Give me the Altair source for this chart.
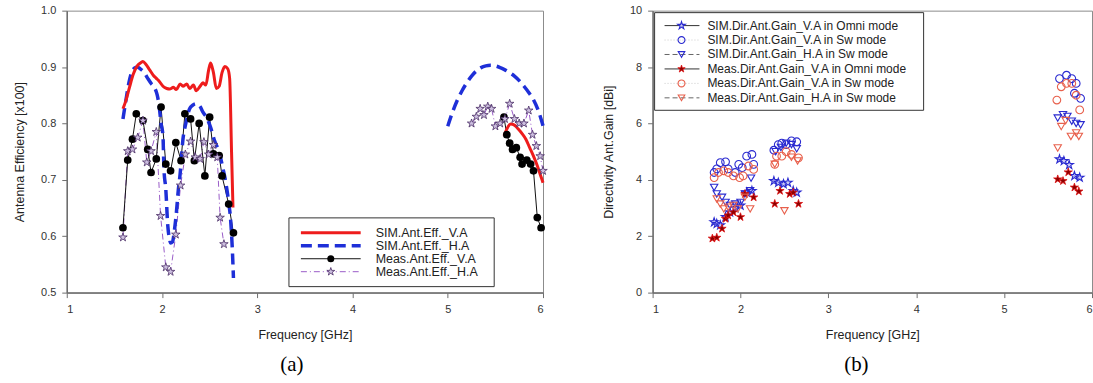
import altair as alt
import pandas as pd

# ---------------- Panel (a): antenna efficiency ----------------
sim_v_f = [1.59, 1.62, 1.66, 1.70, 1.74, 1.78, 1.80, 1.83, 1.87, 1.91, 1.94, 1.97, 2.01, 2.05, 2.08,
           2.12, 2.15, 2.19, 2.22, 2.26, 2.29, 2.33, 2.36, 2.40, 2.43, 2.46, 2.49, 2.51, 2.54, 2.57,
           2.60, 2.63, 2.66, 2.69, 2.71, 2.73, 2.745]
sim_v_e = [0.826, 0.840, 0.865, 0.888, 0.902, 0.908, 0.910, 0.905, 0.895, 0.885, 0.880, 0.875, 0.866,
           0.862, 0.861, 0.864, 0.860, 0.870, 0.866, 0.870, 0.862, 0.868, 0.858, 0.866, 0.872, 0.868,
           0.895, 0.907, 0.890, 0.862, 0.866, 0.890, 0.901, 0.897, 0.880, 0.750, 0.651]
sim_v_f2 = [5.59, 5.62, 5.66, 5.70, 5.74, 5.78, 5.82, 5.86, 5.90, 5.94, 5.98, 6.00]
sim_v_e2 = [0.778, 0.790, 0.799, 0.797, 0.790, 0.782, 0.772, 0.757, 0.742, 0.725, 0.705, 0.695]

sim_h_f = [1.59, 1.62, 1.65, 1.68, 1.71, 1.74, 1.77, 1.81, 1.85, 1.89, 1.92, 1.95, 1.97, 1.99, 2.01,
           2.02, 2.04, 2.06, 2.08, 2.09, 2.11, 2.13, 2.15, 2.17, 2.19, 2.22, 2.25, 2.29, 2.32, 2.36,
           2.40, 2.43, 2.47, 2.51, 2.55, 2.60, 2.64, 2.67, 2.70, 2.72, 2.74, 2.75]
sim_h_e = [0.808, 0.840, 0.870, 0.890, 0.898, 0.900, 0.897, 0.891, 0.880, 0.870, 0.864, 0.850, 0.831,
           0.800, 0.778, 0.720, 0.683, 0.620, 0.594, 0.588, 0.590, 0.610, 0.640, 0.680, 0.710, 0.772,
           0.800, 0.826, 0.832, 0.835, 0.830, 0.820, 0.810, 0.793, 0.770, 0.749, 0.720, 0.695, 0.660,
           0.630, 0.570, 0.526]
sim_h_f2 = [5.00, 5.05, 5.10, 5.15, 5.20, 5.25, 5.30, 5.35, 5.40, 5.45, 5.50, 5.55, 5.60, 5.65, 5.70,
            5.75, 5.80, 5.85, 5.90, 5.95, 6.00]
sim_h_e2 = [0.795, 0.820, 0.841, 0.858, 0.872, 0.884, 0.893, 0.899, 0.902, 0.903, 0.902, 0.899, 0.895,
            0.890, 0.884, 0.876, 0.866, 0.855, 0.842, 0.823, 0.796]

meas_v_f = [1.59, 1.64, 1.69, 1.73, 1.80, 1.85, 1.885, 1.94, 1.99, 2.04, 2.09, 2.145, 2.20, 2.24, 2.30,
            2.34, 2.39, 2.45, 2.50, 2.54, 2.60, 2.63, 2.70, 2.75]
meas_v_e = [0.615, 0.735, 0.772, 0.817, 0.805, 0.754, 0.713, 0.737, 0.829, 0.728, 0.716, 0.766, 0.734,
            0.817, 0.808, 0.734, 0.800, 0.707, 0.811, 0.746, 0.743, 0.707, 0.657, 0.606]
meas_v_f2 = [5.59, 5.62, 5.65, 5.68, 5.72, 5.76, 5.78, 5.83, 5.87, 5.90, 5.94, 5.98]
meas_v_e2 = [0.811, 0.780, 0.765, 0.754, 0.757, 0.740, 0.728, 0.735, 0.728, 0.716, 0.633, 0.615]

meas_h_f = [1.59, 1.64, 1.69, 1.745, 1.80, 1.84, 1.885, 1.94, 1.985, 2.04, 2.09, 2.145, 2.195, 2.245,
            2.30, 2.35, 2.40, 2.44, 2.49, 2.54, 2.58, 2.61, 2.65]
meas_h_e = [0.598, 0.751, 0.754, 0.775, 0.805, 0.731, 0.751, 0.785, 0.636, 0.545, 0.537, 0.603, 0.690,
            0.745, 0.768, 0.740, 0.737, 0.767, 0.745, 0.762, 0.740, 0.633, 0.586]
meas_h_f2 = [5.25, 5.30, 5.34, 5.38, 5.42, 5.46, 5.50, 5.55, 5.60, 5.65, 5.70, 5.75, 5.80, 5.85, 5.89,
             5.93, 5.97, 6.00]
meas_h_e2 = [0.800, 0.812, 0.826, 0.815, 0.830, 0.826, 0.795, 0.800, 0.808, 0.835, 0.808, 0.800, 0.800,
             0.823, 0.780, 0.760, 0.742, 0.716]

legend_a = ["SIM.Ant.Eff._V.A", "SIM.Ant.Eff._H.A", "Meas.Ant.Eff._V.A", "Meas.Ant.Eff._H.A"]

# ---------------- Panel (b): directivity / gain ----------------
sim_v_omni_f = [1.70, 1.73, 1.77, 1.83, 1.88, 1.94, 2.00, 2.07, 2.13, 2.38, 2.43, 2.49, 2.54, 2.60, 2.64,
                5.63, 5.68, 5.74, 5.80, 5.86]
sim_v_omni_g = [2.50, 2.44, 2.39, 2.68, 2.85, 3.00, 3.09, 3.55, 3.61, 3.96, 3.90, 3.85, 3.90, 3.61, 3.55,
                4.73, 4.67, 4.53, 4.14, 4.08]
sim_v_sw_f = [1.70, 1.73, 1.77, 1.83, 1.86, 1.94, 1.98, 2.02, 2.07, 2.13, 2.15, 2.38, 2.43, 2.47, 2.52,
              2.58, 2.64, 5.63, 5.71, 5.77, 5.82, 5.80, 5.87]
sim_v_sw_g = [4.26, 4.39, 4.61, 4.64, 4.39, 4.26, 4.55, 4.43, 4.84, 4.90, 4.55, 5.05, 5.25, 5.30, 5.25,
              5.38, 5.35, 7.59, 7.71, 7.59, 7.42, 7.07, 6.89]
sim_h_sw_f = [1.70, 1.73, 1.79, 1.83, 1.88, 1.94, 2.00, 2.05, 2.11, 2.12, 2.40, 2.46, 2.52, 2.58, 2.64,
              5.61, 5.67, 5.72, 5.77, 5.82, 5.87]
sim_h_sw_g = [3.73, 3.50, 3.38, 3.20, 3.09, 3.14, 3.20, 3.50, 3.61, 4.06, 5.00, 5.15, 5.30, 5.25, 5.10,
              6.19, 6.31, 6.25, 6.08, 6.00, 5.95]
meas_v_omni_f = [1.68, 1.73, 1.79, 1.83, 1.86, 1.92, 2.00, 2.05, 2.15, 2.39, 2.45, 2.56, 2.60, 2.66,
                 5.61, 5.67, 5.73, 5.80, 5.85]
meas_v_omni_g = [1.92, 1.95, 2.27, 2.62, 2.74, 2.85, 2.68, 3.50, 3.38, 3.15, 3.61, 3.50, 3.55, 3.15,
                 4.02, 3.96, 4.27, 3.73, 3.59]
meas_v_sw_f = [1.70, 1.75, 1.81, 1.86, 1.92, 1.99, 2.03, 2.09, 2.15, 2.39, 2.41, 2.47, 2.52, 2.58, 2.66,
               5.60, 5.65, 5.71, 5.77, 5.82, 5.86]
meas_v_sw_g = [4.08, 4.26, 4.32, 4.26, 4.14, 4.08, 4.14, 4.49, 4.37, 4.55, 4.84, 4.84, 5.00, 4.90, 4.78,
               6.83, 7.30, 7.42, 7.42, 7.00, 6.48]
meas_h_sw_f = [1.73, 1.77, 1.81, 1.86, 1.92, 1.97, 2.05, 2.11, 2.39, 2.50, 2.58, 2.65,
               5.61, 5.65, 5.70, 5.76, 5.82, 5.85]
meas_h_sw_g = [3.32, 3.14, 2.97, 3.03, 3.09, 2.97, 3.38, 2.97, 4.55, 2.90, 4.80, 4.67,
               5.13, 5.89, 6.10, 5.54, 5.66, 5.54]

legend_b = ["SIM.Dir.Ant.Gain_V.A in Omni mode", "SIM.Dir.Ant.Gain_V.A in Sw mode",
            "SIM.Dir.Ant.Gain_H.A in Sw mode", "Meas.Dir.Ant.Gain_V.A in Omni mode",
            "Meas.Dir.Ant.Gain_V.A in Sw mode", "Meas.Dir.Ant.Gain_H.A in Sw mode"]

x_ticks = [1, 2, 3, 4, 5, 6]
ya_ticks = [0.5, 0.6, 0.7, 0.8, 0.9, 1.0]
yb_ticks = [0, 2, 4, 6, 8, 10]

STAR = ("M0,-1L0.2245,-0.309L0.951,-0.309L0.363,0.118L0.588,0.809L0,0.382"
        "L-0.588,0.809L-0.363,0.118L-0.951,-0.309L-0.2245,-0.309Z")
FONT = "Liberation Sans"

WA, HA = 478, 283
WB, HB = 441, 283


def bands(f1, v1, f2, v2):
    return pd.DataFrame({"f": f1 + f2, "v": v1 + v2,
                         "band": ["low"] * len(f1) + ["high"] * len(f2)})


one = pd.DataFrame({"k": [0]})

xa = alt.X("f:Q", scale=alt.Scale(domain=[1, 6], nice=False),
           axis=alt.Axis(values=x_ticks, title="Frequency [GHz]", format="d"))
ya = alt.Y("v:Q", scale=alt.Scale(domain=[0.5, 1.0], nice=False, zero=False),
           axis=alt.Axis(values=ya_ticks, format=".1f", title="Antenna Efficiency [x100]"))

df_sv = bands(sim_v_f, sim_v_e, sim_v_f2, sim_v_e2)
df_sh = bands(sim_h_f, sim_h_e, sim_h_f2, sim_h_e2)
df_mv = bands(meas_v_f, meas_v_e, meas_v_f2, meas_v_e2)
df_mh = bands(meas_h_f, meas_h_e, meas_h_f2, meas_h_e2)

RED = "#ee1c1c"
BLUE = "#1e2fd8"
PURP = "#9a5cc8"

layers_a = [
    alt.Chart(df_mh).mark_line(color=PURP, strokeWidth=1, strokeDash=[6, 3, 1, 3]).encode(x=xa, y=ya, detail="band:N"),
    alt.Chart(df_mv).mark_line(color="#111111", strokeWidth=1).encode(x=xa, y=ya, detail="band:N"),
    alt.Chart(df_sh).mark_line(color=BLUE, strokeWidth=3.5, strokeDash=[11, 6], interpolate="monotone").encode(x=xa, y=ya, detail="band:N"),
    alt.Chart(df_sv).mark_line(color=RED, strokeWidth=3, interpolate="monotone").encode(x=xa, y=ya, detail="band:N"),
    alt.Chart(df_mv).mark_point(shape="circle", filled=True, color="#000000", size=60, opacity=1).encode(x=xa, y=ya),
    alt.Chart(df_mh).mark_point(shape=STAR, filled=True, fill="#cdbfe0", stroke="#4a2d66", strokeWidth=0.8, size=80, opacity=1).encode(x=xa, y=ya),
]

# legend of panel (a), positions in plot pixels
la_box = (223, 429, 208, 277)
la_rows = [223, 236, 249, 262]
la_line = (235, 295)
la_mark = 265
la_text = 310
layers_a.append(
    alt.Chart(one).mark_rect(fill="white", stroke="#333333", strokeWidth=1).encode(
        x=alt.value(la_box[0]), x2=alt.value(la_box[1]), y=alt.value(la_box[2]), y2=alt.value(la_box[3])))
styles_a = [
    dict(color=RED, strokeWidth=3),
    dict(color=BLUE, strokeWidth=3.5, strokeDash=[11, 6]),
    dict(color="#111111", strokeWidth=1),
    dict(color=PURP, strokeWidth=1, strokeDash=[6, 3, 1, 3]),
]
for i, (lab, st) in enumerate(zip(legend_a, styles_a)):
    yy = la_rows[i]
    layers_a.append(alt.Chart(one).mark_rule(**st).encode(
        x=alt.value(la_line[0]), x2=alt.value(la_line[1]), y=alt.value(yy)))
    if i == 2:
        layers_a.append(alt.Chart(one).mark_point(shape="circle", filled=True, color="#000000", size=50, opacity=1).encode(
            x=alt.value(la_mark), y=alt.value(yy)))
    if i == 3:
        layers_a.append(alt.Chart(one).mark_point(shape=STAR, filled=True, fill="#cdbfe0", stroke="#4a2d66", strokeWidth=0.8, size=70, opacity=1).encode(
            x=alt.value(la_mark), y=alt.value(yy)))
    layers_a.append(alt.Chart(one).mark_text(align="left", baseline="middle", font=FONT, fontSize=12.5, color="#222222").encode(
        x=alt.value(la_text), y=alt.value(yy), text=alt.value(lab)))

panel_a = alt.layer(*layers_a).properties(
    width=WA, height=HA,
    title=alt.TitleParams("(a)", orient="bottom", anchor="middle", frame="group", font="Liberation Serif",
                          fontSize=21, fontWeight="normal", color="#000000", offset=13, dx=-13))

# ---------------- Panel (b) ----------------
xb = alt.X("f:Q", scale=alt.Scale(domain=[1, 6], nice=False),
           axis=alt.Axis(values=x_ticks, title="Frequency [GHz]", format="d"))
yb = alt.Y("g:Q", scale=alt.Scale(domain=[0, 10], nice=False),
           axis=alt.Axis(values=yb_ticks, format="d", title="Directivity Ant.Gain [dBi]"))

BL = "#2a2ad0"
RL = "#e8604c"
styles_b = [
    dict(shape=STAR, filled=True, fill="#c8c8f4", stroke=BL, strokeWidth=1.1, size=80),
    dict(shape="circle", filled=False, stroke=BL, strokeWidth=1.1, size=60),
    dict(shape="triangle-down", filled=False, stroke=BL, strokeWidth=1.1, size=55),
    dict(shape=STAR, filled=True, fill="#8b0000", stroke="#e01010", strokeWidth=0.8, size=75),
    dict(shape="circle", filled=False, stroke=RL, strokeWidth=1.1, size=60),
    dict(shape="triangle-down", filled=False, stroke=RL, strokeWidth=1.1, size=55),
]
series_b = [
    (sim_v_omni_f, sim_v_omni_g),
    (sim_v_sw_f, sim_v_sw_g),
    (sim_h_sw_f, sim_h_sw_g),
    (meas_v_omni_f, meas_v_omni_g),
    (meas_v_sw_f, meas_v_sw_g),
    (meas_h_sw_f, meas_h_sw_g),
]
layers_b = []
for (ff, gg), st in zip(series_b, styles_b):
    d = pd.DataFrame({"f": ff, "g": gg})
    layers_b.append(alt.Chart(d).mark_point(opacity=1, **st).encode(x=xb, y=yb))

lb_box = (2, 272, 2, 100)
lb_rows = [15, 29.5, 44, 58.5, 73, 87.5]
lb_line = (12, 47)
lb_mark = 29
lb_text = 55
layers_b.append(
    alt.Chart(one).mark_rect(fill="white", stroke="#333333", strokeWidth=1).encode(
        x=alt.value(lb_box[0]), x2=alt.value(lb_box[1]), y=alt.value(lb_box[2]), y2=alt.value(lb_box[3])))
line_b = [
    dict(color="#333333", strokeWidth=1),
    dict(color="#cccccc", strokeWidth=1, strokeDash=[1, 2]),
    dict(color="#666666", strokeWidth=1, strokeDash=[5, 3]),
    dict(color="#333333", strokeWidth=1),
    dict(color="#cccccc", strokeWidth=1, strokeDash=[1, 2]),
    dict(color="#666666", strokeWidth=1, strokeDash=[5, 3]),
]
for i, lab in enumerate(legend_b):
    yy = lb_rows[i]
    layers_b.append(alt.Chart(one).mark_rule(**line_b[i]).encode(
        x=alt.value(lb_line[0]), x2=alt.value(lb_line[1]), y=alt.value(yy)))
    st = dict(styles_b[i])
    st["size"] = st["size"] * 0.8
    layers_b.append(alt.Chart(one).mark_point(opacity=1, **st).encode(x=alt.value(lb_mark), y=alt.value(yy)))
    layers_b.append(alt.Chart(one).mark_text(align="left", baseline="middle", font=FONT, fontSize=12, color="#222222").encode(
        x=alt.value(lb_text), y=alt.value(yy), text=alt.value(lab)))

panel_b = alt.layer(*layers_b).properties(
    width=WB, height=HB,
    title=alt.TitleParams("(b)", orient="bottom", anchor="middle", frame="group", font="Liberation Serif",
                          fontSize=21, fontWeight="normal", color="#000000", offset=13, dx=-16))

chart = alt.hconcat(panel_a, panel_b, spacing=51).properties(
    padding={"left": 13, "top": 3, "right": 0, "bottom": 0},
    background="white",
).configure_view(
    stroke="#8c8c8c", strokeWidth=1
).configure_axis(
    domainColor="#6e6e6e", domainWidth=1.5, tickColor="#6e6e6e", tickSize=5, tickWidth=1,
    labelFont=FONT, labelFontSize=11, labelColor="#333333",
    titleFont=FONT, titleFontSize=12.5, titleFontWeight="normal", titleColor="#222222", grid=False,
).configure_axisY(
    labelPadding=6, titlePadding=14
).configure_axisX(
    labelPadding=6, titlePadding=14
)

chart.save("out.html", embed_options={"renderer": "svg", "actions": False})
